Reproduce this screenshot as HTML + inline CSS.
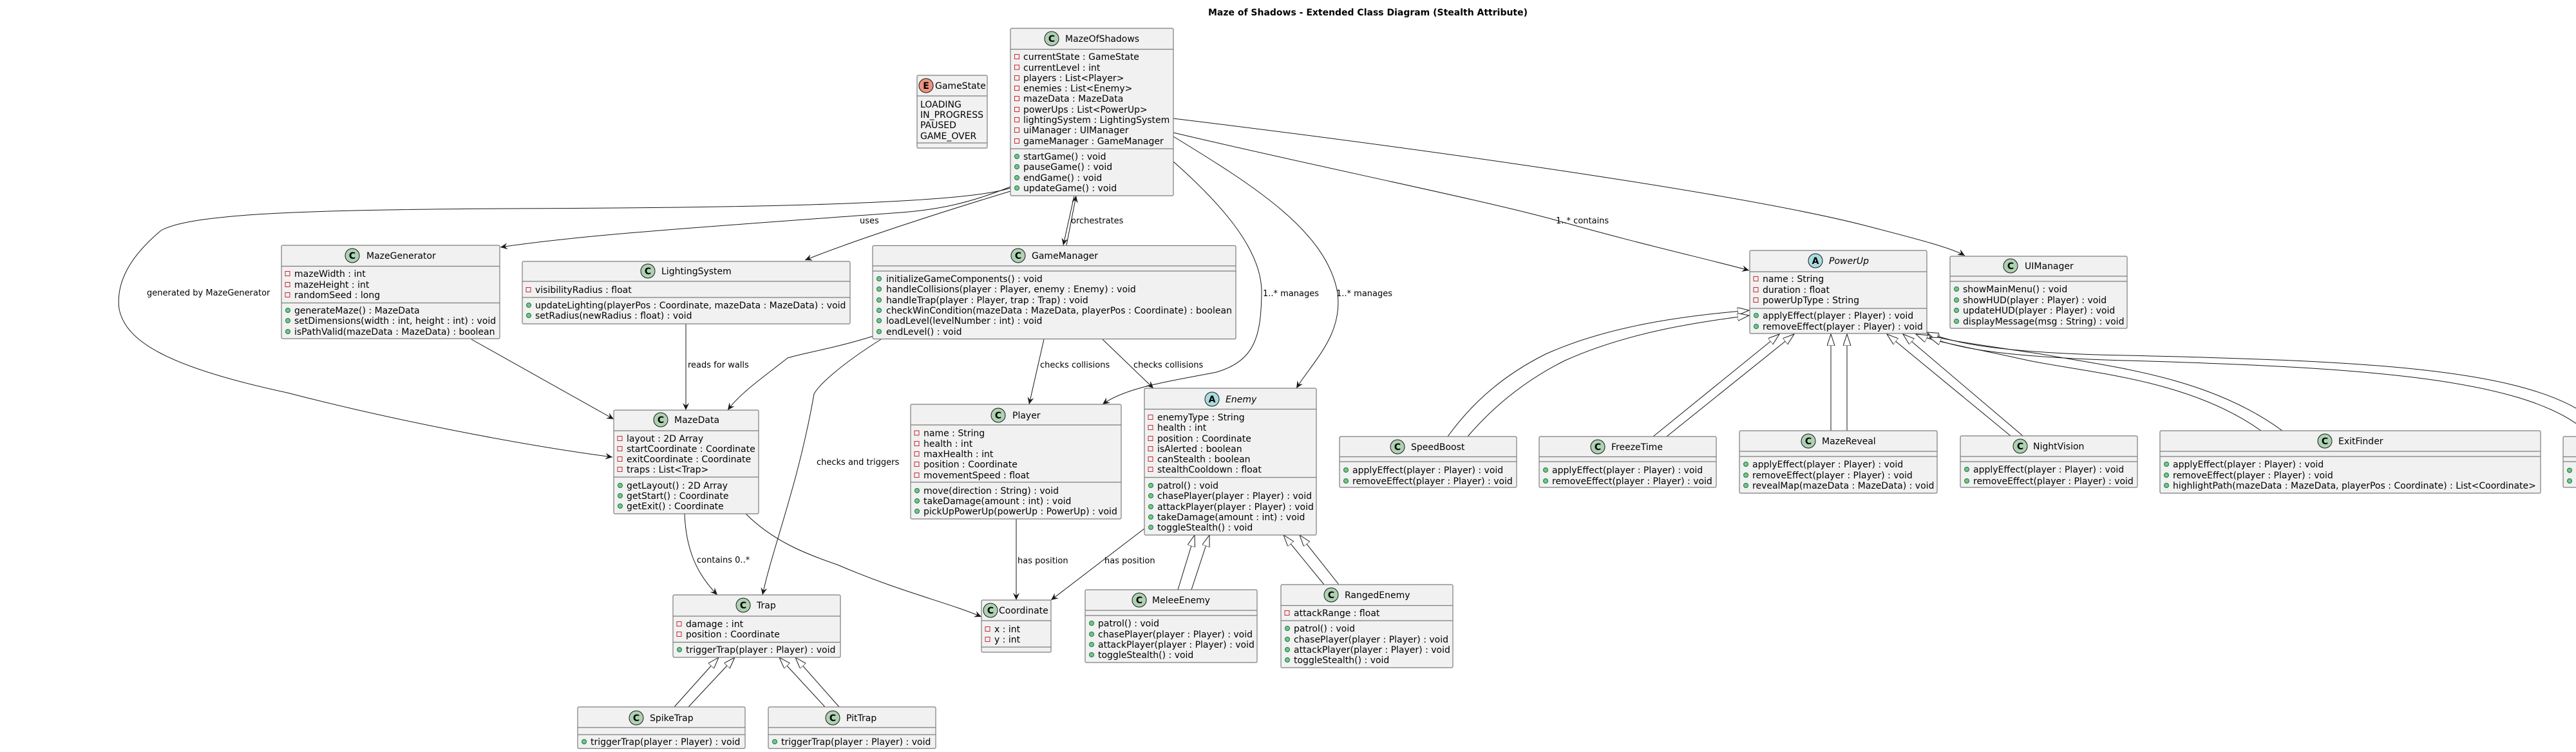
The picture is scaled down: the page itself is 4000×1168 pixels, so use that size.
<!DOCTYPE html>
<html><head><meta charset="utf-8"><style>
html,body{margin:0;padding:0;background:#fff;}
svg{display:block;}
text{font-family:"DejaVu Sans","Liberation Sans",sans-serif;font-size:14px;fill:#000;}
.lb{font-size:13px;}
.bx{fill:#F1F1F1;stroke:#7d7d7d;stroke-width:1.2;}
.ln{stroke:#7d7d7d;stroke-width:1.2;}
.e{fill:none;stroke:#181818;stroke-width:1;}
.pv{fill:none;stroke:#C82930;stroke-width:1;}
.pb{fill:#84BE84;stroke:#038048;stroke-width:1;}
.ic{stroke:#181818;stroke-width:1;}
.il{font-weight:bold;font-size:14px;text-anchor:middle;}
</style></head><body>
<svg width="4000" height="1168" viewBox="0 0 4000 1168" xmlns="http://www.w3.org/2000/svg">
<defs>
<marker id="a" markerUnits="userSpaceOnUse" markerWidth="14" markerHeight="12" refX="11" refY="5" orient="auto"><path d="M0,0 L11,5 L0,10 L4,5 Z" fill="#181818"/></marker>
<marker id="t" markerUnits="userSpaceOnUse" markerWidth="20" markerHeight="14" refX="18" refY="6" orient="auto"><path d="M0,0 L18,6 L0,12 Z" fill="#fff" stroke="#181818" stroke-width="1"/></marker>
</defs>

<text x="1876" y="24" font-weight="bold" textLength="496">Maze of Shadows - Extended Class Diagram (Stealth Attribute)</text>

<!-- edges -->
<path class="e" marker-end="url(#a)" d="M1569,290 C1500,318 1450,326 1400,330 C1100,352 900,365 777,384"/>
<path class="e" marker-end="url(#a)" d="M1569,292 C1480,322 1000,323 786,324 C500,326 300,330 250,358 C200,400 180,440 185,480 C195,530 260,570 446,610 C600,650 800,690 951,710"/>
<path class="e" marker-end="url(#a)" d="M1569,297 C1460,330 1330,372 1250,404"/>
<path class="e" marker-end="url(#a)" d="M1668,304 L1651,381"/>
<path class="e" marker-end="url(#a)" d="M1656,381 L1671,304"/>
<path class="e" marker-end="url(#a)" d="M1822,251 C1900,320 1960,390 1959,455 C1958,520 1950,560 1889,578 C1830,590 1750,600 1712,628"/>
<path class="e" marker-end="url(#a)" d="M1822,212 C1950,290 2060,360 2077,455 C2085,520 2040,560 2013,603"/>
<path class="e" marker-end="url(#a)" d="M1822,206 C2050,260 2300,310 2416,342 C2550,380 2650,402 2716,420"/>
<path class="e" marker-end="url(#a)" d="M1822,184 C2200,230 2700,300 2895,350 C2980,372 3030,385 3051,397"/>
<path class="e" marker-end="url(#a)" d="M1356,522 C1300,540 1240,550 1223,556 C1180,590 1150,610 1130,637"/>
<path class="e" marker-end="url(#a)" d="M1368,527 C1300,570 1270,600 1264,612 C1240,750 1200,850 1184,924"/>
<path class="e" marker-end="url(#a)" d="M1065,503 L1065,637"/>
<path class="e" marker-end="url(#a)" d="M732,527 L953,651"/>
<path class="e" marker-end="url(#a)" d="M1063,798 C1065,850 1080,890 1114,924"/>
<path class="e" marker-end="url(#a)" d="M1158,798 C1200,840 1250,860 1300,877 C1400,920 1470,935 1524,958"/>
<path class="e" marker-end="url(#a)" d="M1621,527 L1598,628"/>
<path class="e" marker-end="url(#a)" d="M1712,527 L1791,603"/>
<path class="e" marker-end="url(#a)" d="M1578,806 L1578,932"/>
<path class="e" marker-end="url(#a)" d="M1777,821 L1632,932"/>

<!-- inheritance -->
<path class="e" marker-end="url(#t)" d="M1047,1098 L1116,1021"/>
<path class="e" marker-end="url(#t)" d="M1069,1098 L1141,1021"/>
<path class="e" marker-end="url(#t)" d="M1281,1098 L1210,1021"/>
<path class="e" marker-end="url(#t)" d="M1303,1098 L1235,1021"/>
<path class="e" marker-end="url(#t)" d="M1829,916 L1855,831"/>
<path class="e" marker-end="url(#t)" d="M1850,916 L1878,831"/>
<path class="e" marker-end="url(#t)" d="M2056,908 L1993,831"/>
<path class="e" marker-end="url(#t)" d="M2079,908 L2018,831"/>
<path class="e" marker-end="url(#t)" d="M2248,678 C2290,620 2340,580 2400,550 C2500,505 2620,490 2716,482"/>
<path class="e" marker-end="url(#t)" d="M2279,678 C2320,630 2370,590 2430,560 C2530,515 2640,500 2716,490"/>
<path class="e" marker-end="url(#t)" d="M2567,678 L2763,519"/>
<path class="e" marker-end="url(#t)" d="M2588,678 L2786,519"/>
<path class="e" marker-end="url(#t)" d="M2843,669 L2843,519"/>
<path class="e" marker-end="url(#t)" d="M2868,669 L2868,519"/>
<path class="e" marker-end="url(#t)" d="M3122,677 L2930,519"/>
<path class="e" marker-end="url(#t)" d="M3141,677 L2955,519"/>
<path class="e" marker-end="url(#t)" d="M3511,669 C3400,590 3250,580 3150,560 C3060,540 3000,530 2975,519"/>
<path class="e" marker-end="url(#t)" d="M3544,669 C3430,585 3280,570 3170,550 C3070,535 3015,528 2993,519"/>
<path class="e" marker-end="url(#t)" d="M4010,640 C3900,570 3650,560 3300,552 C3100,548 3030,532 2992,516"/>
<path class="e" marker-end="url(#t)" d="M4010,665 C3910,585 3650,570 3300,560 C3100,554 3040,540 2996,524"/>

<!-- edge labels -->
<text class="lb" x="1335" y="347">uses</text>
<text class="lb" x="228" y="459">generated by MazeGenerator</text>
<text class="lb" x="1663" y="347">orchestrates</text>
<text class="lb" x="1961" y="460">1..* manages</text>
<text class="lb" x="2075" y="460">1..* manages</text>
<text class="lb" x="2416" y="347">1..* contains</text>
<text class="lb" x="1615" y="571">checks collisions</text>
<text class="lb" x="1760" y="571">checks collisions</text>
<text class="lb" x="1268" y="722">checks and triggers</text>
<text class="lb" x="1068" y="571">reads for walls</text>
<text class="lb" x="1082" y="874">contains 0..*</text>
<text class="lb" x="1580" y="875">has position</text>
<text class="lb" x="1715" y="875">has position</text>

<!-- GameState -->
<rect class="bx" x="1424" y="117" width="109" height="113" rx="2"/>
<circle class="ic" cx="1438" cy="133" r="11" fill="#EB937F"/><text class="il" x="1438" y="138">E</text>
<text x="1452" y="138">GameState</text>
<line class="ln" x1="1424" y1="149" x2="1533" y2="149"/>
<text x="1429" y="167">LOADING</text>
<text x="1429" y="183">IN_PROGRESS</text>
<text x="1429" y="199">PAUSED</text>
<text x="1429" y="216">GAME_OVER</text>
<line class="ln" x1="1424" y1="222" x2="1533" y2="222"/>

<!-- MazeOfShadows -->
<rect class="bx" x="1569" y="44" width="253" height="260" rx="2"/>
<circle class="ic" cx="1633" cy="60" r="11" fill="#ADD1B2"/><text class="il" x="1633" y="65">C</text>
<text x="1654" y="65">MazeOfShadows</text>
<line class="ln" x1="1569" y1="76.5" x2="1822" y2="76.5"/>
<rect class="pv" x="1575.5" y="84.5" width="7" height="7"/><text x="1589" y="93">currentState : GameState</text>
<rect class="pv" x="1575.5" y="101" width="7" height="7"/><text x="1589" y="110">currentLevel : int</text>
<rect class="pv" x="1575.5" y="117.5" width="7" height="7"/><text x="1589" y="126">players : List&lt;Player&gt;</text>
<rect class="pv" x="1575.5" y="133.5" width="7" height="7"/><text x="1589" y="142">enemies : List&lt;Enemy&gt;</text>
<rect class="pv" x="1575.5" y="149.5" width="7" height="7"/><text x="1589" y="158">mazeData : MazeData</text>
<rect class="pv" x="1575.5" y="166.5" width="7" height="7"/><text x="1589" y="175">powerUps : List&lt;PowerUp&gt;</text>
<rect class="pv" x="1575.5" y="182.5" width="7" height="7"/><text x="1589" y="191">lightingSystem : LightingSystem</text>
<rect class="pv" x="1575.5" y="198.5" width="7" height="7"/><text x="1589" y="207">uiManager : UIManager</text>
<rect class="pv" x="1575.5" y="215.5" width="7" height="7"/><text x="1589" y="224">gameManager : GameManager</text>
<line class="ln" x1="1569" y1="231" x2="1822" y2="231"/>
<circle class="pb" cx="1579" cy="243" r="3.5"/><text x="1589" y="248">startGame() : void</text>
<circle class="pb" cx="1579" cy="259" r="3.5"/><text x="1589" y="264">pauseGame() : void</text>
<circle class="pb" cx="1579" cy="276" r="3.5"/><text x="1589" y="281">endGame() : void</text>
<circle class="pb" cx="1579" cy="292" r="3.5"/><text x="1589" y="297">updateGame() : void</text>

<!-- GameManager -->
<rect class="bx" x="1355" y="381.5" width="564" height="145" rx="2"/>
<circle class="ic" cx="1581" cy="397" r="11" fill="#ADD1B2"/><text class="il" x="1581" y="402">C</text>
<text x="1602" y="402">GameManager</text>
<line class="ln" x1="1355" y1="413" x2="1919" y2="413"/>
<line class="ln" x1="1355" y1="421" x2="1919" y2="421"/>
<circle class="pb" cx="1365" cy="433" r="3.5"/><text x="1376" y="438">initializeGameComponents() : void</text>
<circle class="pb" cx="1365" cy="449" r="3.5"/><text x="1376" y="454">handleCollisions(player : Player, enemy : Enemy) : void</text>
<circle class="pb" cx="1365" cy="466" r="3.5"/><text x="1376" y="471">handleTrap(player : Player, trap : Trap) : void</text>
<circle class="pb" cx="1365" cy="482" r="3.5"/><text x="1376" y="487">checkWinCondition(mazeData : MazeData, playerPos : Coordinate) : boolean</text>
<circle class="pb" cx="1365" cy="498" r="3.5"/><text x="1376" y="503">loadLevel(levelNumber : int) : void</text>
<circle class="pb" cx="1365" cy="515" r="3.5"/><text x="1376" y="520">endLevel() : void</text>

<!-- MazeGenerator -->
<rect class="bx" x="437" y="381" width="339" height="145" rx="2"/>
<circle class="ic" cx="547" cy="397" r="11" fill="#ADD1B2"/><text class="il" x="547" y="402">C</text>
<text x="569" y="402">MazeGenerator</text>
<line class="ln" x1="437" y1="413.5" x2="776" y2="413.5"/>
<rect class="pv" x="443" y="421.5" width="7" height="7"/><text x="457" y="430">mazeWidth : int</text>
<rect class="pv" x="443" y="438.5" width="7" height="7"/><text x="457" y="447">mazeHeight : int</text>
<rect class="pv" x="443" y="454.5" width="7" height="7"/><text x="457" y="463">randomSeed : long</text>
<line class="ln" x1="437" y1="470.5" x2="776" y2="470.5"/>
<circle class="pb" cx="447" cy="482" r="3.5"/><text x="457" y="487">generateMaze() : MazeData</text>
<circle class="pb" cx="447" cy="498" r="3.5"/><text x="457" y="503">setDimensions(width : int, height : int) : void</text>
<circle class="pb" cx="447" cy="515" r="3.5"/><text x="457" y="520">isPathValid(mazeData : MazeData) : boolean</text>

<!-- LightingSystem -->
<rect class="bx" x="811" y="406" width="509" height="97" rx="2"/>
<circle class="ic" cx="1006" cy="421" r="11" fill="#ADD1B2"/><text class="il" x="1006" y="426">C</text>
<text x="1027" y="426">LightingSystem</text>
<line class="ln" x1="811" y1="437" x2="1320" y2="437"/>
<rect class="pv" x="817" y="446.5" width="7" height="7"/><text x="831" y="455">visibilityRadius : float</text>
<line class="ln" x1="811" y1="462" x2="1320" y2="462"/>
<circle class="pb" cx="821" cy="474" r="3.5"/><text x="831" y="479">updateLighting(playerPos : Coordinate, mazeData : MazeData) : void</text>
<circle class="pb" cx="821" cy="490" r="3.5"/><text x="831" y="495">setRadius(newRadius : float) : void</text>

<!-- MazeData -->
<rect class="bx" x="953" y="637" width="225" height="161" rx="2"/>
<circle class="ic" cx="1026" cy="652" r="11" fill="#ADD1B2"/><text class="il" x="1026" y="657">C</text>
<text x="1047" y="657">MazeData</text>
<line class="ln" x1="953" y1="669" x2="1178" y2="669"/>
<rect class="pv" x="959" y="677.5" width="7" height="7"/><text x="973" y="686">layout : 2D Array</text>
<rect class="pv" x="959" y="693.5" width="7" height="7"/><text x="973" y="702">startCoordinate : Coordinate</text>
<rect class="pv" x="959" y="709.5" width="7" height="7"/><text x="973" y="718">exitCoordinate : Coordinate</text>
<rect class="pv" x="959" y="725.5" width="7" height="7"/><text x="973" y="734">traps : List&lt;Trap&gt;</text>
<line class="ln" x1="953" y1="741" x2="1178" y2="741"/>
<circle class="pb" cx="963" cy="754" r="3.5"/><text x="973" y="759">getLayout() : 2D Array</text>
<circle class="pb" cx="963" cy="770" r="3.5"/><text x="973" y="775">getStart() : Coordinate</text>
<circle class="pb" cx="963" cy="786" r="3.5"/><text x="973" y="791">getExit() : Coordinate</text>

<!-- Trap -->
<rect class="bx" x="1045" y="924" width="260" height="97" rx="2"/>
<circle class="ic" cx="1154" cy="940" r="11" fill="#ADD1B2"/><text class="il" x="1154" y="945">C</text>
<text x="1175" y="945">Trap</text>
<line class="ln" x1="1045" y1="957" x2="1305" y2="957"/>
<rect class="pv" x="1051" y="965.5" width="7" height="7"/><text x="1065" y="974">damage : int</text>
<rect class="pv" x="1051" y="981.5" width="7" height="7"/><text x="1065" y="990">position : Coordinate</text>
<line class="ln" x1="1045" y1="997.5" x2="1305" y2="997.5"/>
<circle class="pb" cx="1055" cy="1009" r="3.5"/><text x="1065" y="1014">triggerTrap(player : Player) : void</text>

<!-- SpikeTrap -->
<rect class="bx" x="897" y="1098" width="260" height="64.5" rx="2"/>
<circle class="ic" cx="988" cy="1115" r="11" fill="#ADD1B2"/><text class="il" x="988" y="1120">C</text>
<text x="1009" y="1120">SpikeTrap</text>
<line class="ln" x1="897" y1="1130" x2="1157" y2="1130"/>
<line class="ln" x1="897" y1="1141" x2="1157" y2="1141"/>
<circle class="pb" cx="907" cy="1152" r="3.5"/><text x="917" y="1157">triggerTrap(player : Player) : void</text>

<!-- PitTrap -->
<rect class="bx" x="1193" y="1098" width="260" height="64.5" rx="2"/>
<circle class="ic" cx="1293" cy="1115" r="11" fill="#ADD1B2"/><text class="il" x="1293" y="1120">C</text>
<text x="1314" y="1120">PitTrap</text>
<line class="ln" x1="1193" y1="1130" x2="1453" y2="1130"/>
<line class="ln" x1="1193" y1="1141" x2="1453" y2="1141"/>
<circle class="pb" cx="1203" cy="1152" r="3.5"/><text x="1213" y="1157">triggerTrap(player : Player) : void</text>

<!-- Player -->
<rect class="bx" x="1414" y="628" width="327" height="178" rx="2"/>
<circle class="ic" cx="1550" cy="645" r="11" fill="#ADD1B2"/><text class="il" x="1550" y="650">C</text>
<text x="1572" y="650">Player</text>
<line class="ln" x1="1414" y1="660" x2="1741" y2="660"/>
<rect class="pv" x="1420" y="669" width="7" height="7"/><text x="1434" y="677.5">name : String</text>
<rect class="pv" x="1420" y="685.5" width="7" height="7"/><text x="1434" y="694">health : int</text>
<rect class="pv" x="1420" y="701.5" width="7" height="7"/><text x="1434" y="710">maxHealth : int</text>
<rect class="pv" x="1420" y="717.5" width="7" height="7"/><text x="1434" y="726">position : Coordinate</text>
<rect class="pv" x="1420" y="734.5" width="7" height="7"/><text x="1434" y="743">movementSpeed : float</text>
<line class="ln" x1="1414" y1="749" x2="1741" y2="749"/>
<circle class="pb" cx="1424" cy="762" r="3.5"/><text x="1434" y="767">move(direction : String) : void</text>
<circle class="pb" cx="1424" cy="778" r="3.5"/><text x="1434" y="783">takeDamage(amount : int) : void</text>
<circle class="pb" cx="1424" cy="794" r="3.5"/><text x="1434" y="799">pickUpPowerUp(powerUp : PowerUp) : void</text>

<!-- Enemy -->
<rect class="bx" x="1777" y="603" width="267" height="228" rx="2"/>
<circle class="ic" cx="1882" cy="620" r="11" fill="#A9DCDF"/><text class="il" x="1882" y="625">A</text>
<text x="1903" y="625" font-style="italic">Enemy</text>
<line class="ln" x1="1777" y1="635.5" x2="2044" y2="635.5"/>
<rect class="pv" x="1783" y="644.5" width="7" height="7"/><text x="1797" y="653">enemyType : String</text>
<rect class="pv" x="1783" y="660.5" width="7" height="7"/><text x="1797" y="669">health : int</text>
<rect class="pv" x="1783" y="677.5" width="7" height="7"/><text x="1797" y="686">position : Coordinate</text>
<rect class="pv" x="1783" y="693.5" width="7" height="7"/><text x="1797" y="702">isAlerted : boolean</text>
<rect class="pv" x="1783" y="709.5" width="7" height="7"/><text x="1797" y="718">canStealth : boolean</text>
<rect class="pv" x="1783" y="725.5" width="7" height="7"/><text x="1797" y="734">stealthCooldown : float</text>
<line class="ln" x1="1777" y1="741.5" x2="2044" y2="741.5"/>
<circle class="pb" cx="1787" cy="754" r="3.5"/><text x="1797" y="759">patrol() : void</text>
<circle class="pb" cx="1787" cy="770" r="3.5"/><text x="1797" y="775">chasePlayer(player : Player) : void</text>
<circle class="pb" cx="1787" cy="787" r="3.5"/><text x="1797" y="792">attackPlayer(player : Player) : void</text>
<circle class="pb" cx="1787" cy="803" r="3.5"/><text x="1797" y="808">takeDamage(amount : int) : void</text>
<circle class="pb" cx="1787" cy="819" r="3.5"/><text x="1797" y="824">toggleStealth() : void</text>

<!-- Coordinate -->
<rect class="bx" x="1524" y="932" width="108" height="81" rx="2"/>
<circle class="ic" cx="1538" cy="948" r="11" fill="#ADD1B2"/><text class="il" x="1538" y="953">C</text>
<text x="1551" y="953">Coordinate</text>
<line class="ln" x1="1524" y1="964" x2="1632" y2="964"/>
<rect class="pv" x="1530" y="973.5" width="7" height="7"/><text x="1544" y="982">x : int</text>
<rect class="pv" x="1530" y="989.5" width="7" height="7"/><text x="1544" y="998">y : int</text>
<line class="ln" x1="1524" y1="1005" x2="1632" y2="1005"/>

<!-- MeleeEnemy -->
<rect class="bx" x="1685" y="916" width="267" height="113" rx="2"/>
<circle class="ic" cx="1769" cy="932" r="11" fill="#ADD1B2"/><text class="il" x="1769" y="937">C</text>
<text x="1789" y="937">MeleeEnemy</text>
<line class="ln" x1="1685" y1="948" x2="1952" y2="948"/>
<line class="ln" x1="1685" y1="956" x2="1952" y2="956"/>
<circle class="pb" cx="1695" cy="968" r="3.5"/><text x="1705" y="973">patrol() : void</text>
<circle class="pb" cx="1695" cy="985" r="3.5"/><text x="1705" y="990">chasePlayer(player : Player) : void</text>
<circle class="pb" cx="1695" cy="1001" r="3.5"/><text x="1705" y="1006">attackPlayer(player : Player) : void</text>
<circle class="pb" cx="1695" cy="1017" r="3.5"/><text x="1705" y="1022">toggleStealth() : void</text>

<!-- RangedEnemy -->
<rect class="bx" x="1989" y="908" width="267" height="129" rx="2"/>
<circle class="ic" cx="2067" cy="924" r="11" fill="#ADD1B2"/><text class="il" x="2067" y="929">C</text>
<text x="2088" y="929">RangedEnemy</text>
<line class="ln" x1="1989" y1="940.5" x2="2256" y2="940.5"/>
<rect class="pv" x="1995" y="948.5" width="7" height="7"/><text x="2009" y="957">attackRange : float</text>
<line class="ln" x1="1989" y1="964" x2="2256" y2="964"/>
<circle class="pb" cx="1999" cy="976" r="3.5"/><text x="2009" y="981">patrol() : void</text>
<circle class="pb" cx="1999" cy="993" r="3.5"/><text x="2009" y="998">chasePlayer(player : Player) : void</text>
<circle class="pb" cx="1999" cy="1009" r="3.5"/><text x="2009" y="1014">attackPlayer(player : Player) : void</text>
<circle class="pb" cx="1999" cy="1025" r="3.5"/><text x="2009" y="1030">toggleStealth() : void</text>

<!-- PowerUp -->
<rect class="bx" x="2717" y="389" width="275" height="129" rx="2"/>
<circle class="ic" cx="2819" cy="405" r="11" fill="#A9DCDF"/><text class="il" x="2819" y="410">A</text>
<text x="2840" y="410" font-style="italic">PowerUp</text>
<line class="ln" x1="2717" y1="422" x2="2992" y2="422"/>
<rect class="pv" x="2723" y="429.5" width="7" height="7"/><text x="2737" y="438">name : String</text>
<rect class="pv" x="2723" y="446.5" width="7" height="7"/><text x="2737" y="455">duration : float</text>
<rect class="pv" x="2723" y="462.5" width="7" height="7"/><text x="2737" y="471">powerUpType : String</text>
<line class="ln" x1="2717" y1="479" x2="2992" y2="479"/>
<circle class="pb" cx="2727" cy="490" r="3.5"/><text x="2737" y="495">applyEffect(player : Player) : void</text>
<circle class="pb" cx="2727" cy="507" r="3.5"/><text x="2737" y="512">removeEffect(player : Player) : void</text>

<!-- UIManager -->
<rect class="bx" x="3028" y="398" width="275" height="112" rx="2"/>
<circle class="ic" cx="3122" cy="413" r="11" fill="#ADD1B2"/><text class="il" x="3122" y="418">C</text>
<text x="3144" y="418">UIManager</text>
<line class="ln" x1="3028" y1="429" x2="3303" y2="429"/>
<line class="ln" x1="3028" y1="437" x2="3303" y2="437"/>
<circle class="pb" cx="3038" cy="449" r="3.5"/><text x="3048" y="454">showMainMenu() : void</text>
<circle class="pb" cx="3038" cy="466" r="3.5"/><text x="3048" y="471">showHUD(player : Player) : void</text>
<circle class="pb" cx="3038" cy="482" r="3.5"/><text x="3048" y="487">updateHUD(player : Player) : void</text>
<circle class="pb" cx="3038" cy="499" r="3.5"/><text x="3048" y="504">displayMessage(msg : String) : void</text>

<!-- SpeedBoost -->
<rect class="bx" x="2080" y="678" width="275" height="79" rx="2"/>
<circle class="ic" cx="2170" cy="694" r="11" fill="#ADD1B2"/><text class="il" x="2170" y="699">C</text>
<text x="2191" y="699">SpeedBoost</text>
<line class="ln" x1="2080" y1="709.5" x2="2355" y2="709.5"/>
<line class="ln" x1="2080" y1="717" x2="2355" y2="717"/>
<circle class="pb" cx="2090" cy="730" r="3.5"/><text x="2100" y="735">applyEffect(player : Player) : void</text>
<circle class="pb" cx="2090" cy="747" r="3.5"/><text x="2100" y="752">removeEffect(player : Player) : void</text>

<!-- FreezeTime -->
<rect class="bx" x="2390" y="678" width="275" height="79" rx="2"/>
<circle class="ic" cx="2481" cy="694" r="11" fill="#ADD1B2"/><text class="il" x="2481" y="699">C</text>
<text x="2502" y="699">FreezeTime</text>
<line class="ln" x1="2390" y1="709.5" x2="2665" y2="709.5"/>
<line class="ln" x1="2390" y1="717" x2="2665" y2="717"/>
<circle class="pb" cx="2400" cy="730" r="3.5"/><text x="2410" y="735">applyEffect(player : Player) : void</text>
<circle class="pb" cx="2400" cy="747" r="3.5"/><text x="2410" y="752">removeEffect(player : Player) : void</text>

<!-- MazeReveal -->
<rect class="bx" x="2701" y="669" width="307" height="97" rx="2"/>
<circle class="ic" cx="2808" cy="685" r="11" fill="#ADD1B2"/><text class="il" x="2808" y="690">C</text>
<text x="2829" y="690">MazeReveal</text>
<line class="ln" x1="2701" y1="701" x2="3008" y2="701"/>
<line class="ln" x1="2701" y1="709" x2="3008" y2="709"/>
<circle class="pb" cx="2711" cy="721" r="3.5"/><text x="2721" y="726">applyEffect(player : Player) : void</text>
<circle class="pb" cx="2711" cy="738" r="3.5"/><text x="2721" y="743">removeEffect(player : Player) : void</text>
<circle class="pb" cx="2711" cy="754" r="3.5"/><text x="2721" y="759">revealMap(mazeData : MazeData) : void</text>

<!-- NightVision -->
<rect class="bx" x="3044" y="677" width="275" height="80" rx="2"/>
<circle class="ic" cx="3137" cy="693" r="11" fill="#ADD1B2"/><text class="il" x="3137" y="698">C</text>
<text x="3157" y="698">NightVision</text>
<line class="ln" x1="3044" y1="709" x2="3319" y2="709"/>
<line class="ln" x1="3044" y1="717" x2="3319" y2="717"/>
<circle class="pb" cx="3054" cy="729" r="3.5"/><text x="3064" y="734">applyEffect(player : Player) : void</text>
<circle class="pb" cx="3054" cy="747" r="3.5"/><text x="3064" y="752">removeEffect(player : Player) : void</text>

<!-- ExitFinder -->
<rect class="bx" x="3354" y="669" width="591" height="97" rx="2"/>
<circle class="ic" cx="3610" cy="685" r="11" fill="#ADD1B2"/><text class="il" x="3610" y="690">C</text>
<text x="3631" y="690">ExitFinder</text>
<line class="ln" x1="3354" y1="701" x2="3945" y2="701"/>
<line class="ln" x1="3354" y1="709" x2="3945" y2="709"/>
<circle class="pb" cx="3364" cy="721" r="3.5"/><text x="3374" y="726">applyEffect(player : Player) : void</text>
<circle class="pb" cx="3364" cy="738" r="3.5"/><text x="3374" y="743">removeEffect(player : Player) : void</text>
<circle class="pb" cx="3364" cy="754" r="3.5"/><text x="3374" y="759">highlightPath(mazeData : MazeData, playerPos : Coordinate) : List&lt;Coordinate&gt;</text>

<!-- cut-off class -->
<rect class="bx" x="3980" y="678" width="40" height="79" rx="2"/>
<line class="ln" x1="3980" y1="709.5" x2="4000" y2="709.5"/>
<line class="ln" x1="3980" y1="717" x2="4000" y2="717"/>
<circle class="pb" cx="3990" cy="730.5" r="3.5"/>
<circle class="pb" cx="3990" cy="747" r="3.5"/>
</svg>
</body></html>
